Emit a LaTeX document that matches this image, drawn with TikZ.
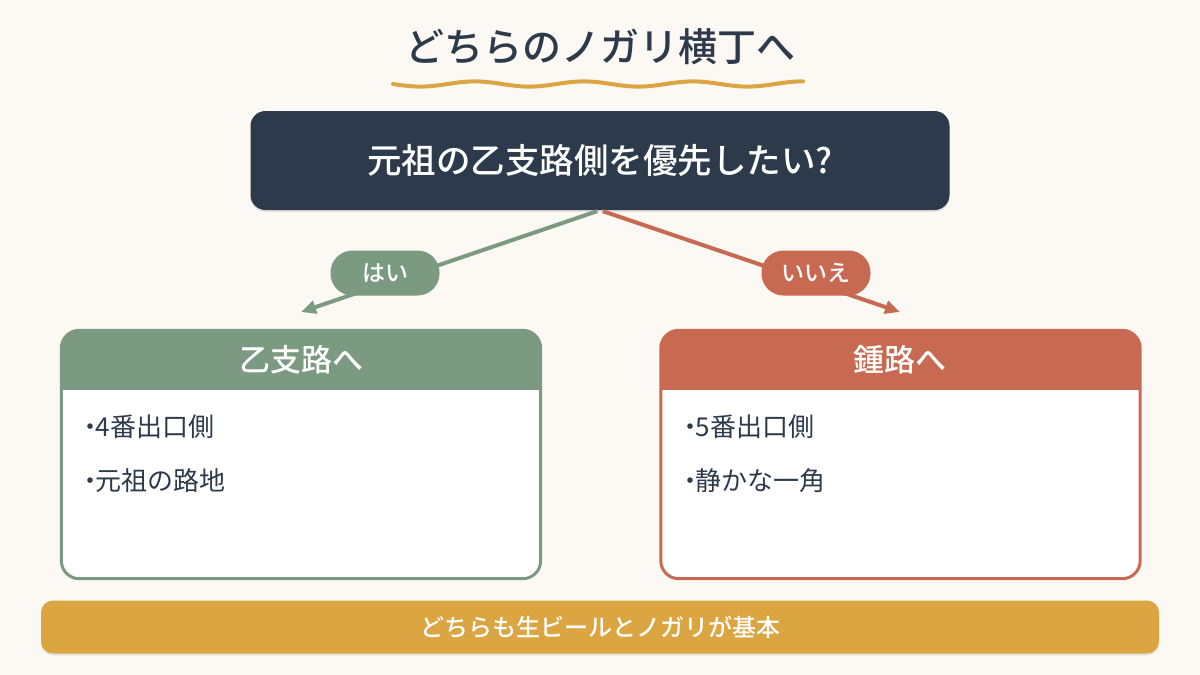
\documentclass[tikz,border=0pt]{standalone}
\usepackage{fontspec}
\setmainfont{Noto Sans CJK JP}[BoldFont={Noto Sans CJK JP Medium}]
\usetikzlibrary{arrows.meta,shadows}

\definecolor{sfondo}{HTML}{FCF8F4}
\definecolor{notte}{HTML}{2C3A4B}
\definecolor{salvia}{HTML}{7C9A82}
\definecolor{mattone}{HTML}{C86A52}
\definecolor{senape}{HTML}{DBA541}

\newcommand\punto{\makebox[0.45em]{・}}

\tikzset{
  pill/.style={fill=#1, text=white, rounded corners=22pt, minimum width=109pt,
    minimum height=45pt, inner sep=0pt, font=\fontsize{23}{23}\selectfont\bfseries},
  scheda/.style={fill=white, rounded corners=18pt, minimum width=479pt,
    minimum height=248pt, inner sep=0pt},
  bordo/.style={draw=#1, line width=3pt, rounded corners=18pt},
  freccia/.style={draw=#1, line width=4pt, shorten <=3pt,
    -{Triangle[length=15pt,width=13pt]}},
  testata/.style={text=white, font=\fontsize{31}{31}\selectfont\bfseries},
  voce/.style={anchor=west, inner sep=0pt, text=notte, font=\fontsize{26}{26}\selectfont},
}

\begin{document}
\begin{tikzpicture}[x=1pt,y=-1pt]
        % Sfondo
        \fill[sfondo] (0,0) rectangle (1200,675);

        % Titolo e sottolineatura
        \node[text=notte, font=\fontsize{39}{39}\selectfont\bfseries] (titolo) at (600,47) {どちらのノガリ横丁へ};
        \draw[senape, line width=4pt, line cap=round, domain=393:803, samples=120, smooth]
            plot (\x, {84 + 2.6*sin((\x-393)*3.3)});

        % Domanda
        \node[fill=notte, text=white, rounded corners=15pt, minimum width=699pt, minimum height=99pt,
            drop shadow={opacity=0.18, shadow xshift=0pt, shadow yshift=-2pt},
            font=\fontsize{34.5}{34.5}\selectfont\bfseries] (domanda) at (600,160.5) {元祖の乙支路側を優先したい?};

        % Frecce
        \coordinate (puntaL) at (301,312);
        \coordinate (puntaR) at (900,312);
        \draw[freccia=salvia] (domanda.south) -- (puntaL);
        \draw[freccia=mattone] (domanda.south) -- (puntaR);
        \node[pill=salvia] (si) at (385,273) {はい};
        \node[pill=mattone] (no) at (816,273) {いいえ};

        % Schede
        \node[scheda] (boxL) at (301,454.5) {};
        \node[scheda] (boxR) at (900.5,454.5) {};
        \begin{scope}
            \clip[rounded corners=18pt] (boxL.south west) rectangle (boxL.north east);
            \fill[salvia] (boxL.north west) rectangle (boxL.east |- 0,390);
        \end{scope}
        \begin{scope}
            \clip[rounded corners=18pt] (boxR.south west) rectangle (boxR.north east);
            \fill[mattone] (boxR.north west) rectangle (boxR.east |- 0,390);
        \end{scope}
        \draw[bordo=salvia] (boxL.south west) rectangle (boxL.north east);
        \draw[bordo=mattone] (boxR.south west) rectangle (boxR.north east);
        \node[testata] (hdrL) at (301,360) {乙支路へ};
        \node[testata] (hdrR) at (900,360) {鍾路へ};

        % Voci
        \node[voce] (l1) at (84,427) {\punto 4番出口側};
        \node[voce] (l2) at (84,481) {\punto 元祖の路地};
        \node[voce] (r1) at (684,427) {\punto 5番出口側};
        \node[voce] (r2) at (684,481) {\punto 静かな一角};

        % Nota finale
        \node[fill=senape, text=white, rounded corners=12pt, minimum width=1118pt, minimum height=53pt,
            drop shadow={opacity=0.15, shadow xshift=0pt, shadow yshift=-2pt},
            font=\fontsize{24}{24}\selectfont\bfseries] (base) at (600,627) {どちらも生ビールとノガリが基本};
\end{tikzpicture}
\end{document}
